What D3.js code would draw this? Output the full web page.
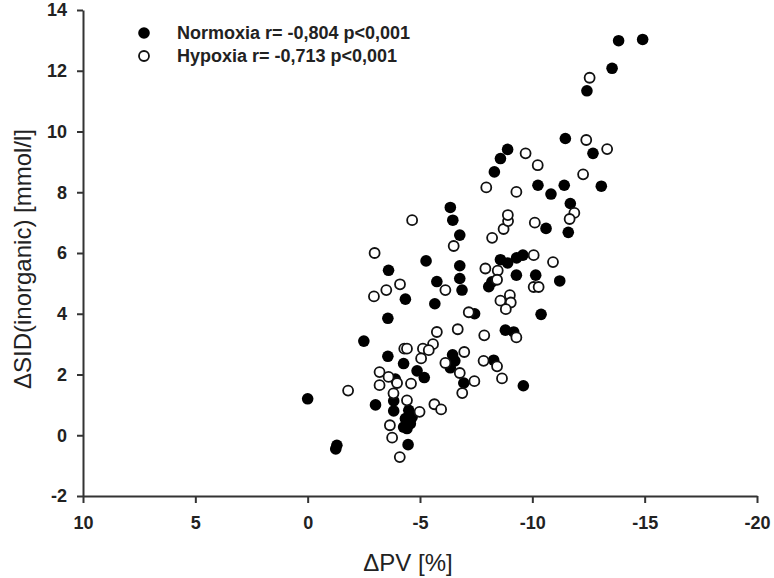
<!DOCTYPE html>
<html>
<head>
<meta charset="utf-8">
<script src="https://cdn.jsdelivr.net/npm/d3@7"></script>
<style>
  body { margin: 0; background: #fff; }
  svg { display: block; }
  .tick text { font-family: "Liberation Sans", Arial, sans-serif; font-size: 18px; font-weight: bold; fill: #222; }
  .domain, .tick line { stroke: #333; stroke-width: 2px; }
</style>
</head>
<body>
<div id="chart"></div>
<script>
// values: [ΔPV %, ΔSID mmol/l]
const normoxia = [
  [0, 1.2], [-1.3, -0.33], [-1.25, -0.45], [-3.02, 1.0], [-3.83, 1.13], [-3.83, 0.8],
  [-3.9, 1.85], [-4.5, 0.82], [-4.35, 0.55], [-4.27, 0.27], [-4.57, 0.38], [-4.65, 0.6],
  [-4.42, 0.22], [-4.47, -0.31], [-2.5, 3.1], [-3.57, 3.85], [-3.57, 2.6], [-4.27, 2.36],
  [-4.87, 2.12], [-5.19, 1.9], [-3.6, 5.43], [-5.27, 5.74], [-5.75, 5.06], [-4.35, 4.48],
  [-5.66, 4.33], [-6.35, 7.5], [-6.46, 7.08], [-6.77, 6.59], [-6.77, 5.58], [-6.77, 5.16],
  [-6.87, 4.78], [-7.43, 4.0], [-6.45, 2.65], [-6.55, 2.45], [-6.35, 2.22], [-6.95, 1.72],
  [-8.28, 2.47], [-8.8, 3.46], [-9.17, 3.4], [-9.6, 1.63], [-10.39, 3.98], [-8.06, 4.89],
  [-8.2, 5.05], [-8.58, 5.78], [-8.9, 5.67], [-9.3, 5.84], [-9.58, 5.93], [-9.29, 5.27],
  [-10.15, 5.27], [-11.22, 5.08], [-10.61, 6.81], [-11.6, 6.68], [-11.69, 7.63], [-10.25, 8.23],
  [-10.83, 7.94], [-11.42, 8.23], [-13.07, 8.2], [-8.9, 9.41], [-8.58, 9.11], [-8.31, 8.67],
  [-11.47, 9.77], [-12.7, 9.28], [-12.43, 11.34], [-13.55, 12.08], [-13.84, 12.99], [-14.91, 13.03]
];
const hypoxia = [
  [-1.8, 1.47], [-3.2, 1.65], [-3.82, 1.38], [-3.66, 0.33], [-3.76, -0.08], [-4.1, -0.72],
  [-3.2, 2.08], [-3.6, 1.92], [-3.98, 1.72], [-4.6, 1.7], [-4.42, 1.15], [-4.98, 0.77],
  [-5.64, 1.02], [-5.94, 0.85], [-4.3, 2.85], [-4.42, 2.85], [-5.13, 2.85], [-5.58, 3.0],
  [-5.39, 2.8], [-5.05, 2.53], [-5.75, 3.4], [-6.68, 3.49], [-7.86, 3.29], [-9.29, 3.22],
  [-6.97, 2.74], [-6.13, 2.38], [-6.77, 2.05], [-7.42, 1.78], [-6.88, 1.39], [-7.83, 2.45],
  [-8.43, 2.27], [-8.65, 1.87], [-7.17, 4.05], [-2.95, 4.57], [-3.5, 4.78], [-4.11, 4.97],
  [-2.98, 6.0], [-4.65, 7.08], [-6.5, 6.23], [-6.13, 4.78], [-7.91, 5.49], [-8.46, 5.42],
  [-8.43, 5.12], [-8.58, 4.43], [-9.0, 4.61], [-9.04, 4.37], [-8.82, 4.15], [-10.06, 4.88],
  [-10.28, 4.88], [-10.06, 5.93], [-10.92, 5.7], [-8.21, 6.5], [-8.72, 6.79], [-8.92, 7.05],
  [-8.91, 7.25], [-10.11, 7.0], [-11.87, 7.32], [-11.66, 7.12], [-7.95, 8.16], [-9.29, 8.01],
  [-9.7, 9.28], [-10.24, 8.89], [-12.26, 8.59], [-12.4, 9.72], [-13.33, 9.42], [-12.55, 11.77]
];
const xTicks = [10, 5, 0, -5, -10, -15, -20];
const yTicks = [-2, 0, 2, 4, 6, 8, 10, 12, 14];
const legendLabels = ["Normoxia r= -0,804 p<0,001", "Hypoxia r= -0,713 p<0,001"];

const width = 774, height = 578;
const margin = {top: 10, right: 17, bottom: 82, left: 83};

let svg = d3.select("#chart")
    .append("svg")
    .attr("width", width)
    .attr("height", height);

let x = d3.scaleLinear()
    .domain([10, -20])
    .range([margin.left, width - margin.right]);

let y = d3.scaleLinear()
    .domain([-2, 14])
    .range([height - margin.bottom, margin.top]);

// plain hyphen labels like the original
let fmt = function(d) { return String(d); };

// axes
svg.append("g")
    .attr("transform", "translate(0," + (height - margin.bottom) + ")")
    .call(d3.axisBottom(x).tickValues(xTicks).tickFormat(fmt).tickSize(7).tickSizeOuter(0).tickPadding(13));

svg.append("g")
    .attr("transform", "translate(" + margin.left + ",0)")
    .call(d3.axisLeft(y).tickValues(yTicks).tickFormat(fmt).tickSize(6).tickSizeOuter(0).tickPadding(10));

// axis titles
svg.append("text")
    .attr("x", 408)
    .attr("y", 571)
    .style("text-anchor", "middle")
    .style("font-family", "Liberation Sans, Arial, sans-serif")
    .style("font-size", "24px")
    .style("fill", "#222")
    .text("\u0394PV [%]");

svg.append("text")
    .attr("transform", "translate(31,259) rotate(-90)")
    .style("text-anchor", "middle")
    .style("font-family", "Liberation Sans, Arial, sans-serif")
    .style("font-size", "24px")
    .style("fill", "#222")
    .text("\u0394SID(inorganic) [mmol/l]");

// points: normoxia filled, hypoxia open on top
svg.append("g").selectAll("circle")
    .data(normoxia)
    .enter()
    .append("circle")
    .attr("cx", function(d) { return x(d[0]); })
    .attr("cy", function(d) { return y(d[1]); })
    .attr("r", 5.8)
    .attr("fill", "#000");

svg.append("g").selectAll("circle")
    .data(hypoxia)
    .enter()
    .append("circle")
    .attr("cx", function(d) { return x(d[0]); })
    .attr("cy", function(d) { return y(d[1]); })
    .attr("r", 5)
    .attr("fill", "#fff")
    .attr("stroke", "#111")
    .attr("stroke-width", 1.8);

// legend
let legend = svg.append("g");
legend.append("circle").attr("cx", 144).attr("cy", 33).attr("r", 5.8).attr("fill", "#000");
legend.append("circle").attr("cx", 144).attr("cy", 56).attr("r", 5).attr("fill", "#fff")
    .attr("stroke", "#111").attr("stroke-width", 1.8);
legend.selectAll("text")
    .data(legendLabels)
    .enter()
    .append("text")
    .attr("x", 177)
    .attr("y", function(d, i) { return 39 + i * 23; })
    .style("font-family", "Liberation Sans, Arial, sans-serif")
    .style("font-size", "18px")
    .style("font-weight", "bold")
    .style("fill", "#222")
    .text(function(d) { return d; });
</script>
</body>
</html>
